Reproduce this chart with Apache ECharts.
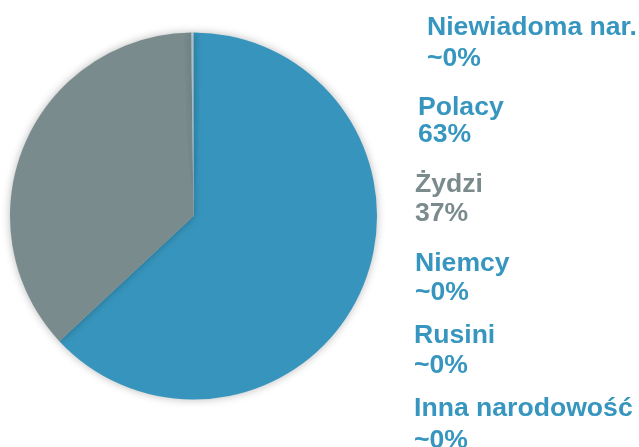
<!DOCTYPE html>
<html>
<head>
<meta charset="utf-8">
<script src="https://cdn.jsdelivr.net/npm/echarts@6/dist/echarts.min.js"></script>
<style>
  html, body { margin: 0; padding: 0; background: #ffffff; }
  #chart { width: 639px; height: 447px; }
</style>
</head>
<body>
<div id="chart"></div>
<script>
// Nationality shares (percent), drawn clockwise from 12 o'clock
const categories = ['Polacy', 'Żydzi', 'Niemcy', 'Rusini', 'Inna narodowość', 'Niewiadoma nar.'];
const shares = [63.05, 36.75, 0.05, 0.05, 0.05, 0.05];

// Order of the text labels in the right-hand column
const labelOrder = ['Niewiadoma nar.', 'Polacy', 'Żydzi', 'Niemcy', 'Rusini', 'Inna narodowość'];

// Styling
const sliceColors = {
  'Polacy': '#3795bd',
  'Żydzi': '#7a8b8d',
  'Niemcy': '#8fbccb',
  'Rusini': '#9cc4d1',
  'Inna narodowość': '#a8cbd6',
  'Niewiadoma nar.': '#8db3bb'
};
const textColors = {
  'Polacy': '#3796bf',
  'Żydzi': '#7b8b8d',
  'Niemcy': '#3796bf',
  'Rusini': '#3796bf',
  'Inna narodowość': '#3796bf',
  'Niewiadoma nar.': '#3796bf'
};
// Label column layout: x and the two text-line baselines
const labelLayout = [
  { x: 427, nameY: 35.5, valueY: 66.5 },
  { x: 418, nameY: 115, valueY: 142.5 },
  { x: 415, nameY: 192, valueY: 221.5 },
  { x: 415, nameY: 271.5, valueY: 300 },
  { x: 414, nameY: 343, valueY: 373.5 },
  { x: 414, nameY: 416.5, valueY: 448 }
];

const total = shares.reduce((a, b) => a + b, 0);
function pctText(name) {
  const v = shares[categories.indexOf(name)] / total * 100;
  return v < 0.5 ? '~0%' : Math.round(v) + '%';
}

const FONT = 'bold 26.6px "Liberation Sans", Arial, Helvetica, sans-serif';
const graphics = [];
labelOrder.forEach((name, i) => {
  const L = labelLayout[i];
  graphics.push({
    type: 'text', x: L.x, y: L.nameY - 7.5,
    style: { text: name, fill: textColors[name], font: FONT, verticalAlign: 'middle', align: 'left' }
  });
  graphics.push({
    type: 'text', x: L.x, y: L.valueY - 7.5,
    style: { text: pctText(name), fill: textColors[name], font: FONT, verticalAlign: 'middle', align: 'left' }
  });
});

const chart = echarts.init(document.getElementById('chart'), null, { renderer: 'canvas' });
chart.setOption({
  animation: false,
  backgroundColor: '#ffffff',
  series: [{
    type: 'pie',
    center: [193.5, 216],
    radius: [0, 183.5],
    startAngle: 90,
    clockwise: true,
    label: { show: false },
    labelLine: { show: false },
    emphasis: { disabled: true },
    itemStyle: {
      borderWidth: 0,
      shadowBlur: 8,
      shadowColor: 'rgba(0,0,0,0.28)'
    },
    data: categories.map((name, i) => ({
      name: name,
      value: shares[i],
      itemStyle: { color: sliceColors[name] }
    }))
  }],
  graphic: graphics
});
</script>
</body>
</html>
